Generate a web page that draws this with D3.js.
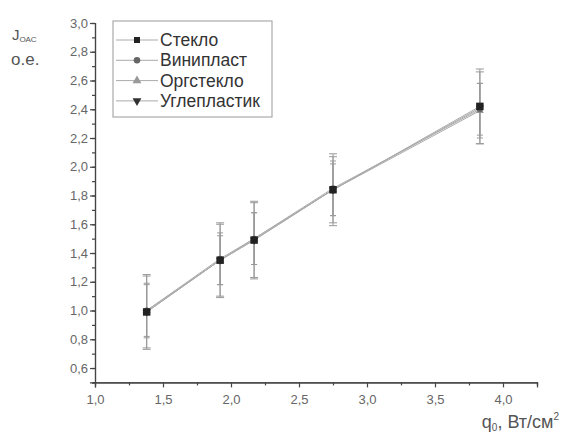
<!DOCTYPE html>
<html>
<head>
<meta charset="utf-8">
<script src="https://cdn.jsdelivr.net/npm/d3@7"></script>
<style>
  body { margin: 0; background: #fff; }
  text { font-family: Arial, "Liberation Sans", sans-serif; }
</style>
</head>
<body>
<script>
// Data
var qValues = [1.38, 1.92, 2.17, 2.75, 3.83];
var seriesNames = ['Стекло', 'Винипласт', 'Оргстекло', 'Углепластик'];
var steklo = [0.99, 1.35, 1.49, 1.84, 2.42];
var viniplast = [1.00, 1.36, 1.50, 1.85, 2.40];
var orgsteklo = [1.00, 1.35, 1.50, 1.84, 2.39];
var ugleplastik = [0.99, 1.35, 1.49, 1.84, 2.41];
var errSteklo = [0.26, 0.26, 0.27, 0.25, 0.26];
var errViniplast = [0.18, 0.18, 0.18, 0.19, 0.18];
var errOrgsteklo = [0.19, 0.17, 0.18, 0.18, 0.19];
var errUgleplastik = [0.25, 0.25, 0.26, 0.23, 0.25];
var yTicks = [0.6, 0.8, 1.0, 1.2, 1.4, 1.6, 1.8, 2.0, 2.2, 2.4, 2.6, 2.8, 3.0];
var xTicks = [1.0, 1.5, 2.0, 2.5, 3.0, 3.5, 4.0];

var allValues = [steklo, viniplast, orgsteklo, ugleplastik];
var allErrors = [errSteklo, errViniplast, errOrgsteklo, errUgleplastik];

// Style
var markerColors = ['#222', '#666', '#999', '#333'];
var lineColor = '#aaa',
    errColor = '#999',
    axisColor = '#444',
    labelColor = '#666';

var width = 562, height = 434;

var svg = d3.select('body').append('svg')
  .attr('width', width)
  .attr('height', height);

var x = d3.scaleLinear().domain([1, 4.25]).range([95, 537]);
var y = d3.scaleLinear().domain([0.5, 3.0]).range([382.4, 23]);

var comma = function(d) { return d3.format('.1f')(d).replace('.', ','); };

// Axes
var yAxis = svg.append('g')
  .attr('transform', 'translate(' + x(1) + ',0)')
  .call(d3.axisLeft(y).tickValues(yTicks).tickSize(5).tickFormat(comma));
var yMinor = svg.append('g')
  .attr('transform', 'translate(' + x(1) + ',0)')
  .call(d3.axisLeft(y).tickValues(d3.range(0.5, 3.01, 0.1)).tickSize(3).tickFormat(''));

var xAxis = svg.append('g')
  .attr('transform', 'translate(0,' + y(0.5) + ')')
  .call(d3.axisBottom(x).tickValues(xTicks).tickSize(5).tickFormat(comma));
var xMinor = svg.append('g')
  .attr('transform', 'translate(0,' + y(0.5) + ')')
  .call(d3.axisBottom(x).tickValues(d3.range(1.25, 4.26, 0.5)).tickSize(3).tickFormat(''));

[yAxis, yMinor, xAxis, xMinor].forEach(function(g) {
  g.select('.domain').attr('stroke', axisColor).attr('stroke-width', 1.2);
  g.selectAll('.tick line').attr('stroke', axisColor).attr('stroke-width', 1.2);
  g.selectAll('.tick text')
    .attr('fill', labelColor)
    .style('font-size', '13px')
    .style('font-family', 'Arial, "Liberation Sans", sans-serif');
});
xAxis.selectAll('.tick text').attr('dy', '1.05em');
yAxis.selectAll('.tick text').attr('x', -7);

// Axis titles
var yTitle = svg.append('text')
  .attr('x', 12).attr('y', 40)
  .attr('fill', '#555')
  .style('font-size', '15px');
yTitle.append('tspan').text('J');
yTitle.append('tspan').attr('dy', 2).style('font-size', '8px').text('ОАС');
svg.append('text')
  .attr('x', 11).attr('y', 65)
  .attr('fill', '#555')
  .style('font-size', '17px')
  .text('о.е.');

var xTitle = svg.append('text')
  .attr('x', 559).attr('y', 428)
  .attr('text-anchor', 'end')
  .attr('fill', '#555')
  .style('font-size', '18px');
xTitle.append('tspan').text('q');
xTitle.append('tspan').attr('dy', 3).style('font-size', '10px').text('0');
xTitle.append('tspan').attr('dy', -3).text(', Вт/см');
xTitle.append('tspan').attr('dy', -8).style('font-size', '10px').text('2');

// Lines
var line = d3.line()
  .x(function(d, i) { return x(qValues[i]); })
  .y(function(d) { return y(d); });

allValues.forEach(function(vals) {
  svg.append('path')
    .datum(vals)
    .attr('d', line)
    .attr('fill', 'none')
    .attr('stroke', lineColor)
    .attr('stroke-width', 1);
});

// Error bars
allValues.forEach(function(vals, s) {
  var errs = allErrors[s];
  var cap = errs[0] > 0.22 ? 4 : 3;
  var g = svg.append('g').attr('stroke', errColor).attr('stroke-width', 1);
  vals.forEach(function(v, i) {
    var cx = x(qValues[i]);
    g.append('line')
      .attr('x1', cx).attr('x2', cx)
      .attr('y1', y(v + errs[i])).attr('y2', y(v - errs[i]));
    [v + errs[i], v - errs[i]].forEach(function(e) {
      g.append('line')
        .attr('x1', cx - cap).attr('x2', cx + cap)
        .attr('y1', y(e)).attr('y2', y(e));
    });
  });
});

// Markers (square drawn last, covers the rest)
var symbols = [d3.symbolSquare, d3.symbolCircle, d3.symbolTriangle, d3.symbolTriangle];
function symbolPath(s, size) {
  return d3.symbol().type(symbols[s]).size(size)();
}
for (var s = allValues.length - 1; s >= 0; s--) {
  allValues[s].forEach(function(v, i) {
    svg.append('path')
      .attr('d', symbolPath(s, s === 0 ? 56 : 28))
      .attr('fill', markerColors[s])
      .attr('transform', 'translate(' + x(qValues[i]) + ',' + y(v) + ')' + (s === 3 ? ' rotate(180)' : ''));
  });
}

// Legend
var legend = svg.append('g');
legend.append('rect')
  .attr('x', 113).attr('y', 21)
  .attr('width', 159).attr('height', 96)
  .attr('fill', '#fff')
  .attr('stroke', '#aaa')
  .attr('stroke-width', 1.2);

seriesNames.forEach(function(name, s) {
  var ly = 40 + s * 20.3;
  legend.append('line')
    .attr('x1', 116).attr('x2', 158)
    .attr('y1', ly).attr('y2', ly)
    .attr('stroke', lineColor).attr('stroke-width', 1);
  legend.append('path')
    .attr('d', symbolPath(s, s === 0 ? 36 : 34))
    .attr('fill', markerColors[s])
    .attr('transform', 'translate(137,' + ly + ')' + (s === 3 ? ' rotate(180)' : ''));
  legend.append('text')
    .attr('x', 160).attr('y', ly + 6)
    .attr('fill', '#333')
    .style('font-size', '17.5px')
    .text(name);
});
</script>
</body>
</html>
